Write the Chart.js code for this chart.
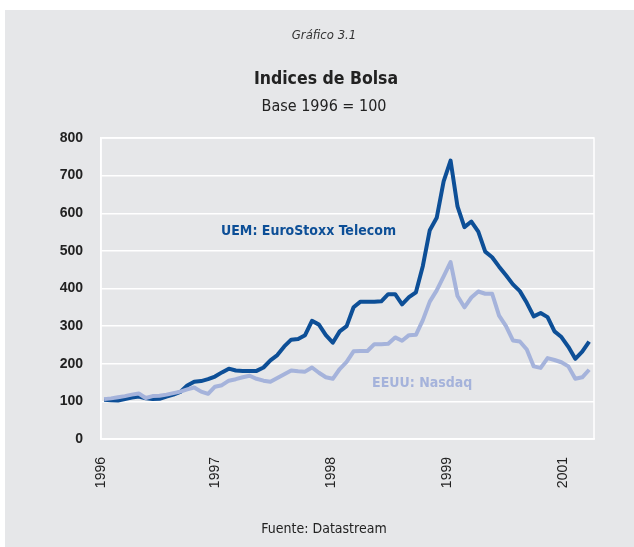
<!DOCTYPE html>
<html>
<head>
<meta charset="utf-8">
<script src="https://cdn.jsdelivr.net/npm/chart.js@4/dist/chart.umd.min.js"></script>
<style>
  html, body { margin: 0; padding: 0; background: #fff; }
  #chart { display: block; }
</style>
</head>
<body>
<canvas id="chart" width="634" height="547"></canvas>
<script>
// Monthly index values, base 1996 = 100
const euroStoxxTelecom = [
  104, 103, 102, 106, 110, 113, 108, 106, 107, 113,
  118, 125, 142, 152, 154, 159, 166, 177, 187, 182,
  181, 181, 181, 190, 209, 223, 246, 264, 266, 276,
  314, 304, 276, 256, 286, 300, 350, 365, 365, 365,
  366, 385, 385, 358, 377, 390, 460, 555, 588, 685,
  740, 618, 563, 578, 551, 498, 483, 458, 435, 411,
  393, 362, 326, 335, 324, 286, 271, 245, 213, 232,
  259
];
const nasdaq = [
  106, 108, 111, 114, 118, 121, 109, 114, 115, 118,
  122, 126, 132, 137, 126, 120, 139, 143, 155, 159,
  164, 168, 160, 155, 152, 162, 172, 182, 180, 179,
  190, 176, 164, 160, 186, 205, 233, 234, 234, 252,
  252, 253, 270, 261, 276, 277, 316, 365, 395, 432,
  470, 380, 350, 376, 392, 386, 386, 328, 300, 262,
  259, 238, 193, 189, 215, 210, 204, 193, 160, 164,
  184
];

// Axis labels as printed (the year ticks sit at these month positions)
const yearLabels = ['1996', '1997', '1998', '1999', '2001'];
const yearTickAt = [-0.45, 16, 32.7, 49.5, 66.2];

const darkBlue = '#0d4f97';
const lightBlue = '#a5b3db';
const narrowFont = "'Liberation Sans Narrow', 'DejaVu Sans Condensed', 'Liberation Sans', sans-serif";

// Grey panel, plot frame and the free texts
const decor = {
  id: 'decor',
  beforeDraw(chart) {
    const ctx = chart.ctx;
    ctx.save();
    ctx.fillStyle = '#ffffff';
    ctx.fillRect(0, 0, chart.width, chart.height);
    ctx.fillStyle = '#e6e7e9';
    ctx.fillRect(5, 10, chart.width - 5, chart.height - 10);
    ctx.restore();
  },
  beforeDatasetsDraw(chart) {
    const ctx = chart.ctx;
    const a = chart.chartArea;
    ctx.save();
    ctx.strokeStyle = '#ffffff';
    ctx.lineWidth = 1.5;
    ctx.strokeRect(a.left, a.top, a.right - a.left, a.bottom - a.top);
    ctx.restore();
  },
  afterDraw(chart) {
    const ctx = chart.ctx;
    const xs = chart.scales.x;
    const ys = chart.scales.y;
    ctx.save();
    ctx.textAlign = 'center';
    ctx.textBaseline = 'middle';
    ctx.fillStyle = '#333333';
    ctx.font = 'italic 13px ' + narrowFont;
    ctx.fillText('Gráfico 3.1', 324, 36);
    ctx.fillStyle = '#222222';
    ctx.font = 'bold 17.5px ' + narrowFont;
    ctx.fillText('Indices de Bolsa', 326, 79);
    ctx.font = '16px ' + narrowFont;
    ctx.fillText('Base 1996 = 100', 324, 107);
    ctx.font = '14px ' + narrowFont;
    ctx.fillText('Fuente: Datastream', 324, 529);

    // series labels, placed in data space
    ctx.font = 'bold 14px ' + narrowFont;
    ctx.fillStyle = darkBlue;
    ctx.fillText('UEM: EuroStoxx Telecom', xs.getPixelForValue(29.5), ys.getPixelForValue(553));
    ctx.fillStyle = lightBlue;
    ctx.fillText('EEUU: Nasdaq', xs.getPixelForValue(45.9), ys.getPixelForValue(149));
    ctx.restore();
  }
};

const toPoints = arr => arr.map((v, i) => ({ x: i, y: v }));

new Chart(document.getElementById('chart').getContext('2d'), {
  type: 'line',
  data: {
    datasets: [
      {
        label: 'EEUU: Nasdaq',
        data: toPoints(nasdaq),
        borderColor: lightBlue,
        borderWidth: 4,
        pointRadius: 0,
        tension: 0,
        borderJoinStyle: 'round',
        order: 1
      },
      {
        label: 'UEM: EuroStoxx Telecom',
        data: toPoints(euroStoxxTelecom),
        borderColor: darkBlue,
        borderWidth: 4,
        pointRadius: 0,
        tension: 0,
        borderJoinStyle: 'round',
        order: 2
      }
    ]
  },
  options: {
    responsive: false,
    animation: false,
    layout: { padding: { left: 56, right: 40, top: 138, bottom: 48 } },
    plugins: {
      legend: { display: false },
      tooltip: { enabled: false }
    },
    scales: {
      x: {
        type: 'linear',
        min: -0.45,
        max: 70.7,
        afterBuildTicks: scale => {
          scale.ticks = yearTickAt.map(v => ({ value: v }));
        },
        afterFit: scale => { scale.height = 60; },
        ticks: {
          minRotation: 90,
          maxRotation: 90,
          autoSkip: false,
          padding: 18,
          color: '#222222',
          font: { family: "'Liberation Sans', Arial, sans-serif", size: 14 },
          callback: (v, i) => yearLabels[i]
        },
        grid: { display: false, drawTicks: false },
        border: { display: true, color: '#ffffff', width: 1.5 }
      },
      y: {
        min: 0,
        max: 800,
        afterFit: scale => { scale.width = 45; },
        ticks: {
          stepSize: 100,
          padding: 18,
          color: '#222222',
          font: { family: "'Liberation Sans', Arial, sans-serif", size: 14, weight: 'bold' }
        },
        grid: { color: '#ffffff', lineWidth: 1.5, drawTicks: false },
        border: { display: true, color: '#ffffff', width: 1.5 }
      }
    }
  },
  plugins: [decor]
});
</script>
</body>
</html>
